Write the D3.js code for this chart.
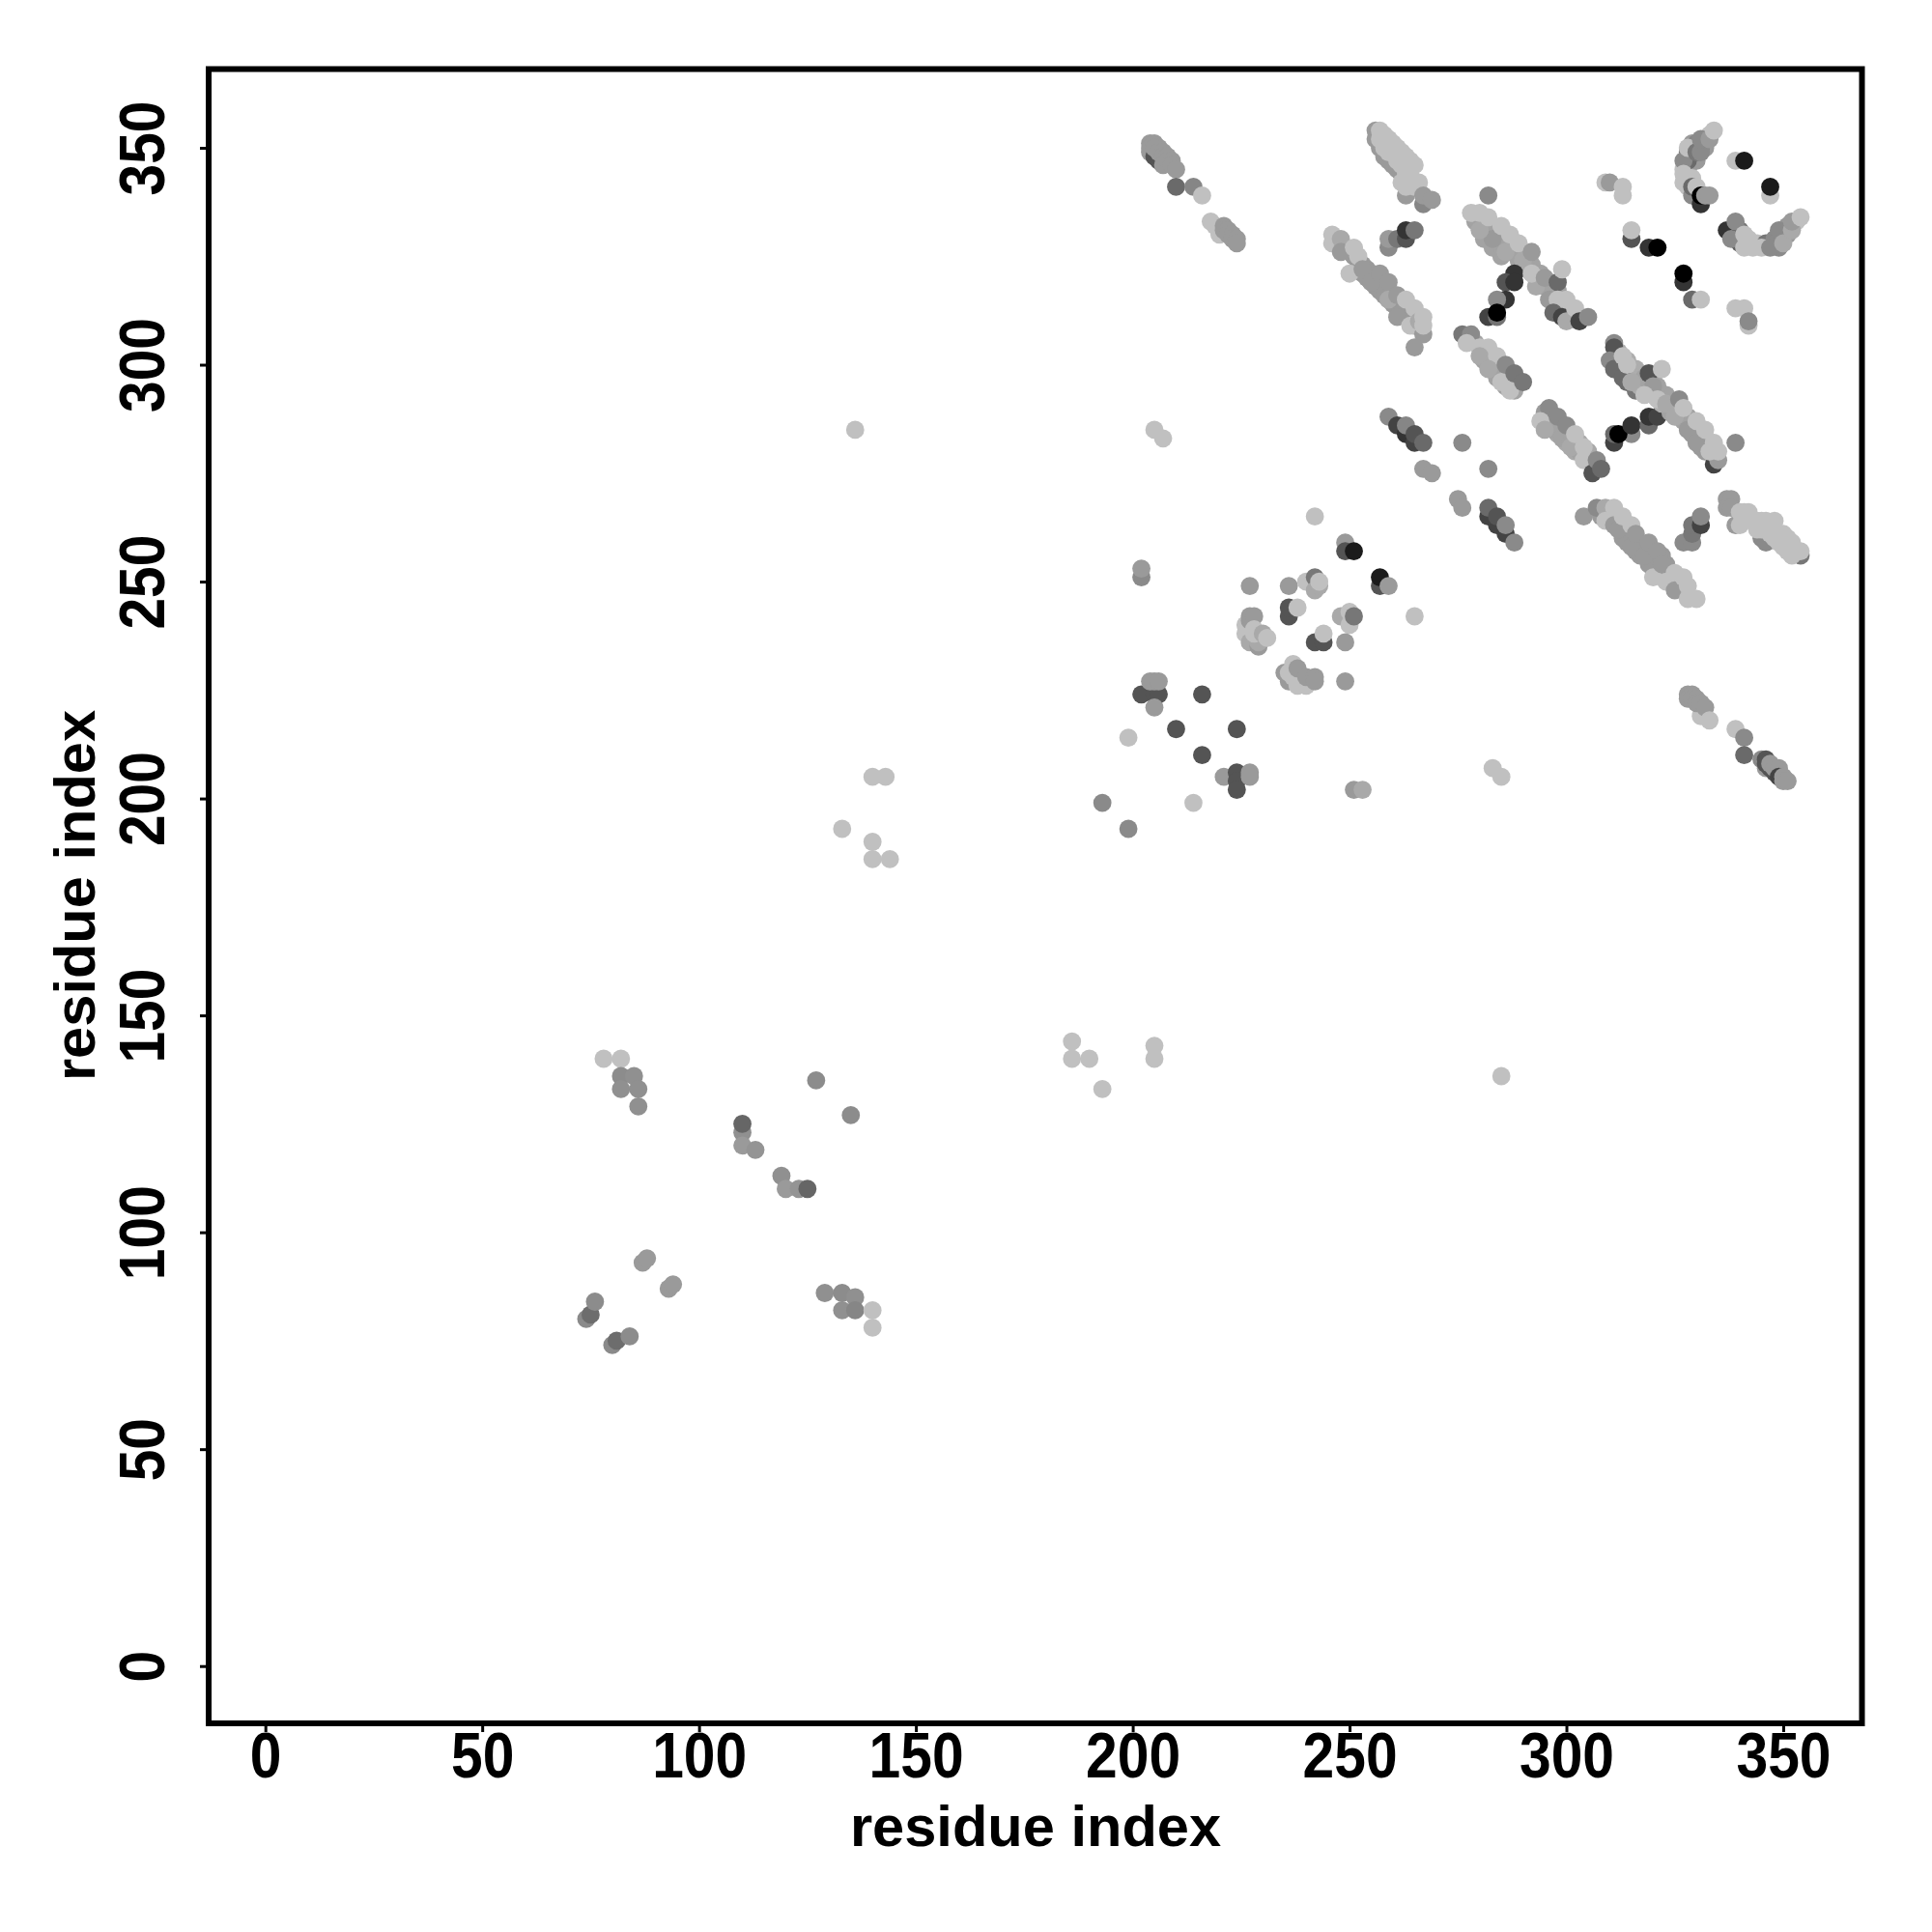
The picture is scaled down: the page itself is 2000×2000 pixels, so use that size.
<!DOCTYPE html>
<html><head><meta charset="utf-8">
<script src="https://cdn.jsdelivr.net/npm/d3@7/dist/d3.min.js"></script>
<style>html,body{margin:0;padding:0;background:#fff}svg{display:block}</style>
</head><body><svg id="c" width="2000" height="2000"></svg>
<script>
// Each row: [residue x, residue y, contact score (0 = strongest/darkest, 1 = weakest/lightest)]
const lowerLeft = [[74,80,.72],[75,81,.57],[76,84,.73],[80,74,.72],[81,75,.57],[84,76,.73],[78,140,1],[82,140,1],[82,136,.73],[85,136,.75],[82,133,.75],[86,133,.75],[86,129,.75],[87,93,.8],[88,94,.8],[93,87,.8],[94,88,.8],[110,123,.75],[110,120,.8],[110,125,.53],[113,119,.77],[119,113,.75],[120,110,.8],[123,110,.77],[125,110,.53],[127,135,.73],[135,127,.73],[129,86,.75],[133,86,.73],[133,82,.75],[136,85,.75],[136,82,.7],[140,82,1],[140,78,1]];
const sparse = [[136,285,1],[133,193,1],[140,190,1],[140,186,1],[144,186,1],[140,205,1],[143,205,1],[186,144,1],[186,140,1],[190,140,1],[193,133,1],[205,143,1],[205,140,1],[285,136,1],[205,285,1],[207,283,1],[283,207,1],[285,205,1]];
const midCluster = [[242,265,1],[249,259,.8],[249,257,.44],[251,257,.14],[257,249,.44],[257,251,.14],[259,249,.8],[265,242,1],[202,251,.72],[202,253,.8],[227,249,.8],[236,249,.8],[240,250,1],[242,251,.62],[242,248,.88],[243,249,.88],[243,250,1],[236,242,.44],[236,244,.44],[238,244,1],[248,242,.88],[250,240,1],[250,243,1],[251,242,.62],[242,236,.44],[244,236,.44],[244,238,1],[249,236,.8],[249,227,.8],[251,202,.8],[253,202,.88],[202,224,.44],[205,224,.44],[206,224,.44],[205,221,.8],[205,227,.8],[204,227,.8],[206,227,.8],[216,224,.44],[210,216,.44],[224,216,.44],[216,210,.44],[199,214,1],[221,205,.8],[224,206,.44],[224,204,.44],[224,202,.44],[227,206,.8],[227,205,.8],[193,199,.72],[214,199,1],[199,193,.72]];
const blobA = [[226,240,1],[226,238,1],[227,241,.8],[227,242,.8],[228,242,.8],[227,236,.88],[229,235,.8],[229,236,.88],[228,239,1],[228,238,1],[230,238,.88],[231,237,1]];
const blobB = [[235,229,.8],[236,227,.8],[237,231,1],[236,229,1],[237,228,1],[238,226,1],[240,226,1],[238,230,.8],[240,228,.8],[242,228,.8],[242,227,.8]];
const stripTopLeft = [[204,351,.8],[204,349,.8],[204,350,.8],[205,351,.8],[205,348,.44],[206,347,.44],[206,350,.8],[205,350,.8],[206,349,.8],[207,349,.8],[207,348,.8],[207,346,.8],[208,348,.8],[208,347,.8],[209,347,.8],[209,346,.8],[210,345,.8],[210,341,.55],[214,341,.7],[216,339,1],[218,333,1],[219,332,1],[220,330,1],[221,332,.8],[221,331,.8],[222,331,.8],[222,330,.8],[223,330,.8],[223,329,.8],[224,329,.8],[224,328,.8]];
const stripTop = [[256,354,.8],[256,352,.8],[257,350,.8],[258,348,.8],[259,347,.8],[260,346,.8],[261,345,.8],[262,344,.8],[263,339,.8],[257,354,1],[258,353,1],[259,352,1],[260,351,1],[261,350,1],[262,349,1],[263,348,1],[264,347,1],[265,346,1],[257,352,1],[258,350,1],[259,349,1],[260,349,1],[261,348,1],[262,347,1],[263,346,1],[264,345,1],[263,344,1],[261,347,1],[262,346,1],[263,345,1],[264,344,1],[262,342,1],[263,341,1],[266,342,1],[265,341,1],[267,337,.7],[267,339,.8],[269,338,.8]];
const stripAFill = [[249,327,.8],[250,326,.8],[251,325,.8],[252,324,.8],[253,323,.8],[254,322,.8],[255,321,.8],[256,320,.8],[257,319,.8],[258,318,.8],[259,317,.8],[260,316,.8],[261,315,.8],[262,314,.8],[263,313,.8],[264,312,.8],[265,311,.8],[266,310,.8],[252,322,.8],[253,321,.8],[254,320,.8],[255,319,.8],[256,318,.8],[257,317,.8],[258,316,.8],[259,315,.8],[260,314,.8],[261,313,.8],[262,312,.8],[263,311,.8],[264,310,.8],[265,309,.8]];
const stripA = [[246,330,1],[246,328,1],[250,321,1],[248,329,.88],[248,326,.8],[251,327,1],[252,325,1],[253,322,.8],[255,319,.8],[257,321,.8],[259,319,.8],[259,315,.88],[261,316,.8],[261,311,.8],[264,309,1],[267,307,.8],[265,304,.8],[263,315,1],[265,313,1],[266,310,.88],[267,309,1],[267,311,1]];
const knotA = [[259,327,.72],[259,329,.8],[261,329,.62],[263,329,.44],[263,331,.27],[265,331,.62],[259,288,.72],[261,286,.35],[263,284,.27],[263,286,.7],[265,282,.35],[265,284,.44],[267,282,.55],[276,282,.72],[267,276,.8],[269,275,.8],[282,276,.72]];
const stripBFill = [[279,333,.85],[281,331,.85],[283,330,.85],[285,328,.85],[287,326,.85],[289,324,.85],[291,322,.85],[293,320,.85],[295,318,.85],[297,316,.85],[299,314,.85],[301,312,.85],[280,333,.85],[282,332,.85],[284,330,.85],[286,328,.85],[288,326,.85],[290,325,.85],[292,323,.85],[294,321,.85],[296,319,.85],[298,317,.85],[300,314,.85],[302,311,.85],[281,329,.85],[283,327,.85],[285,325,.85]];
const stripB = [[282,339,.72],[283,329,.8],[280,331,.88],[278,335,1],[280,335,1],[282,334,1],[285,332,1],[287,330,1],[286,326,.88],[289,328,1],[290,324,.88],[292,326,.8],[288,321,.27],[286,319,.44],[288,319,.27],[286,315,.27],[284,315,.72],[282,311,.35],[284,311,.6],[284,312,0],[293,318,.88],[292,321,1],[295,320,.8],[296,315,.8],[298,319,.55],[299,322,1],[298,315,1],[297,312,.55],[299,311,.35],[300,310,.88],[300,315,1],[302,313,1],[303,310,.35],[305,311,.72]];
const ringFill = [[328,349,.62],[329,350,.7],[329,347,.62],[330,347,.8],[328,345,.8],[329,351,.8],[330,351,.7],[332,351,.8],[327,345,1],[328,343,1],[328,341,1],[329,343,1],[332,350,.8],[331,350,.7],[333,353,1],[340,328,.5],[340,331,.62],[342,329,1],[342,328,1],[344,328,1],[346,328,.62],[348,328,.55],[348,329,.72],[349,327,.72],[349,329,.72],[350,330,.72],[351,330,.8],[351,332,.8],[353,333,1]];
const ringTop = [[329,339,.72],[331,337,.27],[328,347,.55],[327,347,.72],[328,350,1],[327,344,1],[327,342,1],[329,341,.55],[330,349,.62],[331,349,.72],[331,352,.72],[333,352,.8],[334,354,1],[330,341,1],[331,339,0],[332,339,.8],[333,339,.8],[339,347,1],[341,347,.14],[347,339,1],[347,341,.14],[337,331,.27],[338,329,.72],[339,333,.72],[341,330,1],[341,327,1],[343,327,1],[345,327,1],[347,327,.72],[349,331,.72],[350,328,.88],[352,331,.88],[352,333,.8],[354,334,1]];
const scattered = [[309,342,1],[310,342,.8],[313,339,1],[313,341,1],[315,329,.44],[315,331,1],[319,327,.27],[321,327,0],[327,319,.27],[327,321,0],[329,315,.55],[331,315,1],[339,313,1],[341,313,1],[342,309,1],[342,310,.72]];
const stripCFill = [[279,305,.85],[281,303,.85],[283,301,.85],[285,299,.85],[287,297,.85],[289,296,.72],[281,301,.85],[283,299,.85],[285,298,.85],[284,297,.85],[286,295,.85],[288,295,.85],[287,296,.8],[288,294,.85]];
const stripC = [[276,307,.62],[278,307,.72],[277,305,1],[280,304,1],[282,304,1],[280,302,.88],[284,302,1],[282,299,.88],[285,296,1],[287,294,1],[286,300,.72],[288,298,.62],[290,296,.62]];
const stripDFill = [[295,289,.8],[297,288,.8],[299,286,.8],[301,284,.88],[303,282,.88],[305,280,.88],[296,286,.88],[298,284,.88],[300,282,.88],[302,280,.88],[304,279,.88],[306,277,.72],[295,287,.88],[297,285,.85],[299,283,.85],[301,282,.85],[303,280,.85],[305,278,.85],[307,277,.72]];
const stripD = [[296,290,.72],[294,287,1],[295,285,.88],[298,288,.72],[300,286,.72],[301,281,.88],[302,284,1],[304,281,1],[304,278,1],[306,275,.44],[307,278,.72],[308,276,.55]];
const knotB = [[311,282,.35],[311,284,.55],[315,284,.72],[312,284,0],[315,286,.27],[319,286,.55],[319,288,.27],[321,288,.35]];
const stripEFill = [[312,299,.55],[314,296,.55],[316,294,.62],[312,303,.9],[314,301,.9],[316,299,.9],[317,298,.9],[312,300,.9],[314,298,.9],[316,296,.9],[317,295,.9],[319,294,.9],[320,293,.9],[322,291,.9],[324,289,.85],[326,288,.85],[327,287,.85],[329,285,.85],[331,283,.85],[333,281,.85],[328,288,.85],[329,284,.8],[331,281,.8],[332,280,.8],[325,290,.85],[323,293,.85],[321,295,.85],[320,297,.85],[318,297,.85],[332,283,.9],[334,279,.85],[334,280,.9]];
const stripE = [[311,305,.72],[311,304,.44],[310,301,.72],[311,299,.55],[313,297,.55],[313,302,1],[314,300,1],[315,296,.88],[319,298,.44],[320,295,.8],[318,293,1],[322,299,1],[321,292,1],[323,291,.88],[326,292,.72],[325,288,.88],[327,290,1],[328,285,.8],[330,282,.8],[330,287,1],[332,285,1],[334,277,.35],[335,278,.8],[333,280,1],[334,282,1],[335,280,1],[339,282,.72]];
const stripFFill = [[308,265,.8],[310,264,.8],[312,264,.8],[313,262,.8],[314,261,.8],[315,260,.8],[316,259,.8],[317,258,.8],[318,258,.8],[319,256,.8],[320,255,.8],[321,254,.8],[321,253,.8],[322,252,.8],[323,252,.8],[324,250,.8],[325,250,.8],[326,249,.8],[327,249,.8],[327,248,.8],[313,260,.8],[314,259,.8],[316,257,.8],[317,256,.8],[319,254,.8],[320,253,.8],[322,256,.8],[323,254,.8]];
const stripF = [[304,265,.8],[307,267,.72],[309,267,.88],[311,267,1],[309,264,1],[311,263,.8],[312,262,.8],[313,265,1],[315,263,1],[315,258,.8],[316,261,.8],[318,256,.8],[319,259,.8],[321,257,.8],[320,251,1],[322,254,.8],[323,250,1],[325,252,1],[325,248,.8],[327,251,1],[328,249,1],[328,246,1],[330,246,1]];
const knotC = [[327,259,.72],[329,259,.72],[329,261,.62],[329,263,.62],[331,263,.35],[331,265,.72],[275,269,.8],[276,267,.8],[282,265,.35],[282,267,.55],[284,263,.35],[284,265,.44],[286,261,.35],[286,263,.72],[288,259,.72]];
const stripG = [[337,269,.8],[338,269,.8],[337,267,.8],[338,267,.8],[339,263,.8],[345,260,.72],[346,259,.72],[340,263,1],[340,266,1],[341,264,1],[341,266,1],[342,265,1],[342,266,1],[344,262,1],[344,264,1],[345,264,1],[345,262,1],[346,262,1],[346,264,1],[347,263,1],[347,261,1],[348,264,1],[348,262,1],[348,260,1],[349,261,1],[349,259,1],[350,261,1],[350,258,1],[351,260,1],[351,257,1],[354,256,.62],[352,259,1],[352,258,1],[352,256,1],[353,257,1],[354,257,1]];
const stripH = [[331,219,1],[328,224,.8],[329,224,.8],[328,223,.8],[329,223,.8],[330,223,.8],[330,222,.8],[331,222,.8],[332,221,.8],[333,218,1],[339,216,1],[341,214,.72],[341,210,.55],[345,209,.72],[346,207,.8],[346,209,.44],[346,208,.44],[347,207,.44],[348,206,.44],[347,208,.8],[348,207,.8],[349,207,.8],[349,205,.35],[350,205,.8],[350,204,.8],[351,204,.8]];
const xTickValues = [0,50,100,150,200,250,300,350];
const yTickValues = [0,50,100,150,200,250,300,350];
const xAxisLabel = "residue index";
const yAxisLabel = "residue index";

const allPoints = [lowerLeft,sparse,midCluster,blobA,blobB,stripTopLeft,stripTop,stripAFill,stripA,knotA,stripBFill,stripB,ringFill,ringTop,scattered,stripCFill,stripC,stripDFill,stripD,knotB,stripEFill,stripE,stripFFill,stripF,knotC,stripG,stripH].flat();

const frame = {left:216,right:1927.5,top:71.5,bottom:1784};
const x = d3.scaleLinear().domain([0,350]).range([274.7,1846]);
const y = d3.scaleLinear().domain([0,350]).range([1724.7,153]);
const shade = d3.scaleLinear().domain([0,1]).range(["#000000","#c0c0c0"]);
const font = "'Liberation Sans',Arial,sans-serif";
const svg = d3.select("#c");

svg.append("g").selectAll("circle").data(allPoints).join("circle")
  .attr("cx",d=>x(d[0])).attr("cy",d=>y(d[1])).attr("r",9.4).attr("fill",d=>shade(d[2]));

const gx = svg.append("g").attr("transform",`translate(0,${frame.bottom})`)
  .call(d3.axisBottom(x).tickValues(xTickValues).tickFormat(d3.format("d")).tickSize(9));
const gy = svg.append("g").attr("transform",`translate(${frame.left},0)`)
  .call(d3.axisLeft(y).tickValues(yTickValues).tickFormat(d3.format("d")).tickSize(9));
[gx,gy].forEach(g=>{g.select(".domain").remove();g.selectAll("line").attr("stroke","#000").attr("stroke-width",3);});
gx.selectAll("text").attr("font-family",font).attr("font-weight","bold").attr("font-size",66).attr("fill","#000")
  .attr("dy",null).attr("y",56).attr("transform","scale(0.89,1)");
gy.selectAll("text").attr("font-family",font).attr("font-weight","bold").attr("font-size",66).attr("fill","#000")
  .attr("x",null).attr("dy",null).attr("text-anchor","middle")
  .attr("transform","translate(-46,0) rotate(-90) scale(0.89,1)");

svg.append("rect").attr("x",frame.left).attr("y",frame.top)
  .attr("width",frame.right-frame.left).attr("height",frame.bottom-frame.top)
  .attr("fill","none").attr("stroke","#000").attr("stroke-width",6);

svg.append("text").attr("x",1072).attr("y",1910.7).attr("text-anchor","middle")
  .attr("font-family",font).attr("font-weight","bold").attr("font-size",59.6).text(xAxisLabel);
svg.append("text").attr("transform",`translate(98.3,927) rotate(-90)`).attr("text-anchor","middle")
  .attr("font-family",font).attr("font-weight","bold").attr("font-size",59.6).text(yAxisLabel);
</script></body></html>
